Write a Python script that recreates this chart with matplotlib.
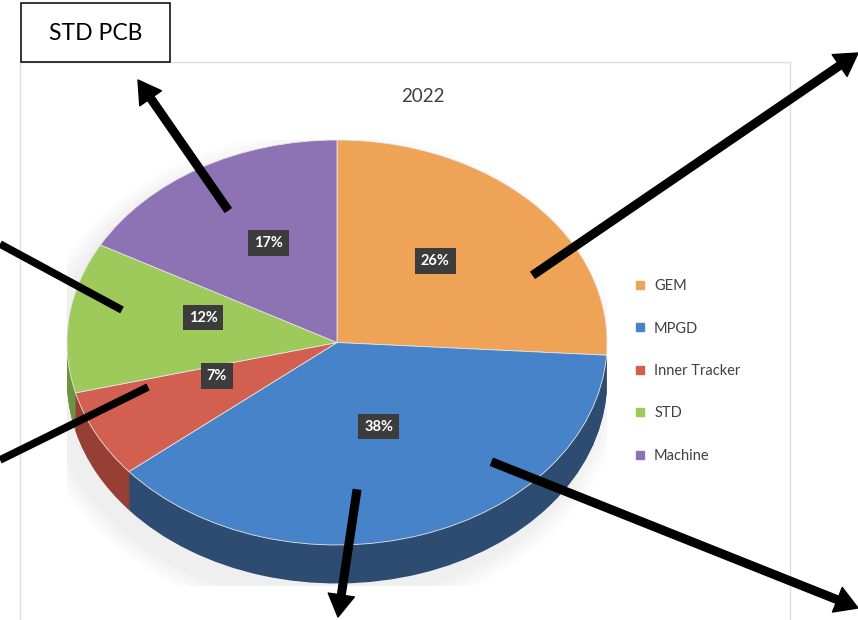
import numpy as np
import matplotlib.pyplot as plt
from matplotlib.patches import Rectangle, Ellipse
from matplotlib.lines import Line2D

# data
categories = ['GEM', 'MPGD', 'Inner Tracker', 'STD', 'Machine']
shares = [26, 38, 7, 12, 17]
top_colors = ['#eea357', '#4683c8', '#d35f50', '#9dca5b', '#8e73b4']
side_colors = ['#b57a3d', '#2e4c72', '#983f35', '#6d9340', '#5f4f88']
title = '2022'
callout = 'STD PCB'

# hand drawn annotations on top of the scan (pixel coords)
arrows = [((228, 210), (138, 80)),
          ((533, 275), (858, 53)),
          ((357, 490), (338, 617)),
          ((492, 462), (858, 608))]
plain_lines = [((122, 310), (0, 244)),
               ((148, 387), (0, 460))]

plt.rcParams['font.family'] = ['Lato', 'DejaVu Sans']

W, H = 858, 620
fig = plt.figure(figsize=(W / 100, H / 100), dpi=100)

# background layer: chart frame of the scanned excel chart
bg = fig.add_axes([0, 0, 1, 1], zorder=0)
bg.set_xlim(0, W)
bg.set_ylim(H, 0)
bg.axis('off')
bg.add_patch(Rectangle((20, 62), 770, 600, fill=False, ec='#dedede', lw=1))
bg.text(423, 97, title, ha='center', va='center', fontsize=13.5, color='#404040')

# pie axes, aspect auto so the pie turns into a tilted ellipse
ax = fig.add_axes([67 / W, (H - 585.5) / H, 540 / W, 445.5 / H], zorder=1)
depth = 0.19

# soft shadow
for k in range(4):
    ax.add_patch(Ellipse((-0.04, -0.16), 2.08 + k * 0.04, 2.25 + k * 0.05,
                         color='#9a9a9a', alpha=0.035, lw=0))

# side of the disc: stack of darker pies
for d in np.linspace(depth, 0.005, 40):
    ax.pie(shares, colors=side_colors, startangle=90, counterclock=False,
           center=(0, -d), radius=1, wedgeprops=dict(lw=0))

wedges, texts, autotexts = ax.pie(
    shares, colors=top_colors, startangle=90, counterclock=False,
    radius=1, autopct=lambda p: f'{p:.0f}%', pctdistance=0.5,
    wedgeprops=dict(edgecolor='#e6e6e6', lw=0.6),
    textprops=dict(color='white', fontsize=10.5, fontweight='bold'))
for t in autotexts:
    x, y = t.get_position()
    t.set_position((x, y + 0.06))  # perspective: labels sit a bit higher
    t.set_bbox(dict(boxstyle='square,pad=0.4', fc='#3c3c3c', ec='none'))

ax.set_aspect('auto')
ax.set_xlim(-1.0, 1.0)
ax.set_ylim(-1.0 - depth - 0.01, 1.0)
ax.axis('off')

# legend
handles = [Line2D([], [], marker='s', ls='', color=c, markersize=6) for c in top_colors]
leg = fig.legend(handles, categories, loc='upper left',
                 bbox_to_anchor=(622 / W, 1 - 266 / H), frameon=False,
                 fontsize=10.5, labelspacing=1.95, handlelength=0.7,
                 handletextpad=0.6, labelcolor='#404040')

# overlay: callout box and arrows
ov = fig.add_axes([0, 0, 1, 1], zorder=3)
ov.set_xlim(0, W)
ov.set_ylim(H, 0)
ov.axis('off')
ov.add_patch(Rectangle((21, 3), 149, 59, fc='white', ec='black', lw=1.1))
ov.text(95.5, 33, callout, ha='center', va='center', fontsize=16.5, color='black')

for start, tip in arrows:
    ov.annotate('', xy=tip, xytext=start,
                arrowprops=dict(width=5.5, headwidth=19, headlength=16,
                                facecolor='black', edgecolor='black',
                                shrink=0))
for p0, p1 in plain_lines:
    ov.plot([p0[0], p1[0]], [p0[1], p1[1]], color='black', lw=5.5,
            solid_capstyle='butt')

fig.savefig('out.png', dpi=100)
